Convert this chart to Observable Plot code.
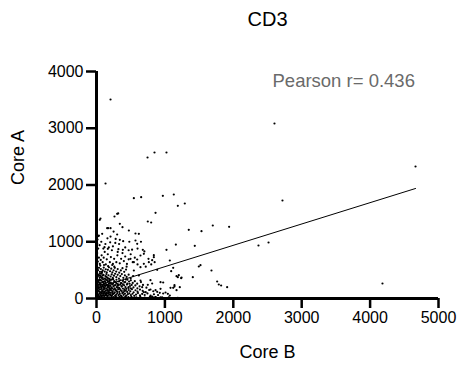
<!DOCTYPE html>
<html><head><meta charset="utf-8">
<script src="https://cdn.jsdelivr.net/npm/d3@7"></script>
<script src="https://cdn.jsdelivr.net/npm/@observablehq/plot@0.6"></script>
<style>body{margin:0;background:#fff} svg{display:block}</style>
</head><body><div id="chart"></div>
<script>
const title = "CD3";
const xLabel = "Core B";
const yLabel = "Core A";
const annotation = "Pearson r= 0.436";
const xTicks = [0, 1000, 2000, 3000, 4000, 5000];
const yTicks = [0, 1000, 2000, 3000, 4000];
const fitIntercept = 185;
const fitSlope = 0.376;

// [Core B, Core A]
const outliers = [
 [205,3507],[132,2026],[2602,3084],[4664,2326],[2719,1727],[2368,934],[2515,987],[4181,264],
 [746,2485],[848,2573],[1023,2573],[546,1767],[653,1786],[970,1809],[1130,1833],[1189,1633],
 [1291,1674],[1349,1210],[1535,1186],[1700,1286],[1939,1263],[1437,928],[1160,951]
];
const midPoints = [
 [48,1387],[263,1445],[302,1492],[317,1500],[863,1510],[750,1357],[799,1339],[341,1316],[380,1256],
 [156,1239],[205,1239],[473,1198],[619,1140],[34,1110],[83,1140],[205,1092],[302,1128],[341,1034],
 [390,1010],[570,1022],[595,963],[1023,858],[1072,670],[838,728],[887,505],[1121,541],[1496,564],
 [1520,587],[1681,493],[1408,376],[1764,300],[1822,229],[1910,199],[1189,376],[1238,358],[936,287],
 [975,282],[1082,188],[1140,211],[1218,199],[1189,10],[1043,82],[1072,53],[814,35],[863,23],
 [750,241],[789,159],[643,317],[668,199],[692,111],[936,171],[619,405],[546,493],[643,552],[692,611],
 [765,640],[497,699],[546,640],[595,687],[643,758],[692,787],[838,763],[814,675],[1092,481],
 [1170,393],[1203,411],[1243,370],[789,323],[814,264],[1140,235],[1121,188],[1170,147],[1788,247],
 [863,147],[887,118],[925,100],[1009,106],[863,20],[789,35],[838,15],[936,20],[1057,20],
 [117,904],[166,875],[10,969],[385,858],[677,858],[58,1410],[170,1240],[570,1145]
];
const densePoints = [
 [8,5],[22,12],[35,3],[48,20],[61,8],[75,30],[88,4],[102,15],[118,26],[131,6],[146,18],[160,35],[174,9],
 [189,22],[204,4],[219,31],[236,12],[251,25],[268,7],[284,38],[300,14],[318,3],[335,27],[352,10],[370,33],
 [389,6],[407,19],[426,40],[445,8],[466,24],[488,5],[510,30],[533,12],[557,3],[582,21],[610,8],[640,28],
 [672,5],[705,17],[742,9],[780,26],[820,4],[865,14],[905,7],[960,20],[1010,6],[1060,12],[1110,4],[1170,9],[1205,3],
 [5,55],[18,72],[30,48],[44,90],[57,63],[70,85],[84,50],[97,78],[111,95],[125,58],[139,70],[153,92],[167,52],
 [181,80],[196,66],[210,98],[225,55],[240,74],[256,88],[272,47],[288,69],[305,93],[322,58],[340,80],[358,50],
 [377,96],[396,64],[416,85],[437,52],[458,76],[480,92],[503,60],[527,84],[552,48],[578,70],[606,95],[636,55],
 [668,80],[705,62],[745,90],[790,50],[840,75],[900,60],[975,88],
 [10,112],[24,140],[38,125],[52,160],[66,108],[80,150],[94,130],[108,165],[122,118],[136,145],[150,105],
 [164,158],[178,132],[192,110],[207,168],[222,140],[237,120],[252,155],[268,108],[284,142],[300,125],[317,162],
 [334,115],[352,148],[370,130],[389,104],[408,160],[428,138],[449,115],[471,150],[494,128],[518,165],[543,110],
 [570,145],[600,120],[635,158],[675,135],[720,112],[770,150],[830,128],
 [6,185],[20,210],[34,240],[48,195],[62,228],[76,178],[90,215],[104,245],[118,190],[132,222],[146,175],
 [160,238],[174,205],[188,182],[203,232],[218,198],[233,248],[248,214],[264,180],[280,236],[296,202],[313,226],
 [330,188],[348,244],[366,210],[385,176],[404,232],[424,200],[445,246],[467,185],[490,220],[514,240],[540,195],
 [568,230],[598,180],[630,215],[680,240],[730,190],
 [12,262],[26,298],[40,330],[54,270],[68,315],[82,285],[96,338],[110,258],[124,305],[138,275],[152,325],
 [166,290],[180,260],[195,318],[210,280],[226,335],[242,265],[258,305],[275,288],[292,330],[310,255],[328,300],
 [347,322],[366,270],[386,310],[407,285],[429,335],[452,262],[476,300],[502,320],[530,275],[560,305],[595,262],[650,290],
 [4,352],[18,390],[32,420],[46,365],[60,405],[74,438],[88,372],[102,415],[116,350],[130,395],[145,430],
 [160,368],[175,410],[190,345],[206,388],[222,425],[238,362],[255,402],[272,436],[290,375],[309,418],[328,350],
 [348,395],[370,430],[392,365],[415,408],[440,380],[470,420],[500,355],[535,395],
 [8,455],[22,500],[36,540],[50,470],[64,520],[78,455],[92,495],[106,545],[120,475],[135,515],[150,460],
 [166,505],[182,550],[198,480],[215,525],[232,462],[250,498],[268,540],[288,475],[310,518],[332,455],[356,495],
 [380,535],[405,470],[432,510],
 [15,30],[28,65],[42,35],[55,110],[68,45],[82,120],[95,95],[108,50],[120,180],[134,90],[148,60],[162,200],
 [176,110],[190,150],[205,60],[220,260],[235,95],[12,160],[25,195],[38,280],[52,320],[66,250],[80,360],[94,300],
 [108,200],[122,265],[136,340],[150,240],[164,310],[178,225],[192,270],[207,150],[38,400],[52,440],[66,380],
 [10,420],[24,320],[80,470],[94,410],[14,240],[30,175],[45,250],[58,330],[72,200],[86,240],[100,290],[114,120],
 [128,230],[142,380],[156,135],[170,350],[184,300],[198,220],[212,330],[228,180],[244,340],[260,230],[276,160],
 [292,270],[308,190],[324,240],[340,170],[356,270],[372,220],[388,250],[404,130],[420,290],[436,170],[452,330],
 [468,200],[484,260],[500,180],
 [5,600],[20,650],[35,720],[10,800],[25,880],[8,950],[15,1040],[30,1100],[48,610],[62,680],[75,760],[90,640],
 [105,720],[120,820],[136,600],[150,690],[165,780],[180,900],[195,640],[210,730],[225,850],[240,610],[258,700],
 [275,980],[290,640],[305,760],[320,870],[340,620],[360,700],[380,800],[400,660],[420,740],[445,610],[470,690],
 [500,780],[530,640],[560,720],[600,600],[55,580],[110,590],[170,570],[230,590],[260,560],[45,940],[70,1000],
 [100,880],[130,960],[160,1060],[200,990],[240,920],[280,1050],[330,960],[420,900],[480,1000],[520,860],[250,1180],
 [310,820],[440,560],[470,850],[600,880],[650,1000],[700,830],[720,560],[760,700],[800,600],[850,640]
];

const points = [...outliers, ...midPoints, ...densePoints].map(([b, a]) => ({b, a}));
const xMax = d3.max(points, d => d.b);
const fit = [0, xMax].map(b => ({b, a: fitIntercept + fitSlope * b}));

const font = "'Liberation Sans', Arial, Helvetica, sans-serif";
const chart = Plot.plot({
  width: 462, height: 371,
  marginLeft: 96, marginRight: 24, marginTop: 71, marginBottom: 73,
  style: {fontFamily: font, fontSize: "16px", background: "#fff", color: "#000", overflow: "visible"},
  x: {domain: [0, 5000]},
  y: {domain: [0, 4000]},
  marks: [
    Plot.dot(points, {x: "b", y: "a", r: 1.1, fill: "#000", stroke: null}),
    Plot.line(fit, {x: "b", y: "a", stroke: "#000", strokeWidth: 1}),
    Plot.axisX({ticks: xTicks, tickSize: 10, tickPadding: 3, strokeWidth: 2.5, tickFormat: d => String(d), label: null, fontSize: 16}),
    Plot.axisY({ticks: yTicks, tickSize: 10, tickPadding: 3, strokeWidth: 2.5, tickFormat: d => String(d), label: null, fontSize: 16}),
    Plot.ruleY([0], {x1: 0, x2: 5000, stroke: "#000", strokeWidth: 3}),
    Plot.ruleX([0], {y1: 0, y2: 4000, stroke: "#000", strokeWidth: 3}),
    Plot.text([title], {frameAnchor: "top", dy: -52, fontSize: 20, lineAnchor: "middle", fill: "#000"}),
    Plot.text([yLabel], {frameAnchor: "left", dx: -78, rotate: -90, fontSize: 18, fill: "#000"}),
    Plot.text([xLabel], {frameAnchor: "bottom", dy: 54, fontSize: 18, lineAnchor: "middle", fill: "#000"}),
    Plot.text([annotation], {frameAnchor: "top-left", dx: 176, dy: 15, lineAnchor: "bottom", textAnchor: "start", fontSize: 18.5, fill: "#6a6a6a", fontWeight: 300})
  ]
});
document.getElementById("chart").appendChild(chart);
</script>
</body></html>
